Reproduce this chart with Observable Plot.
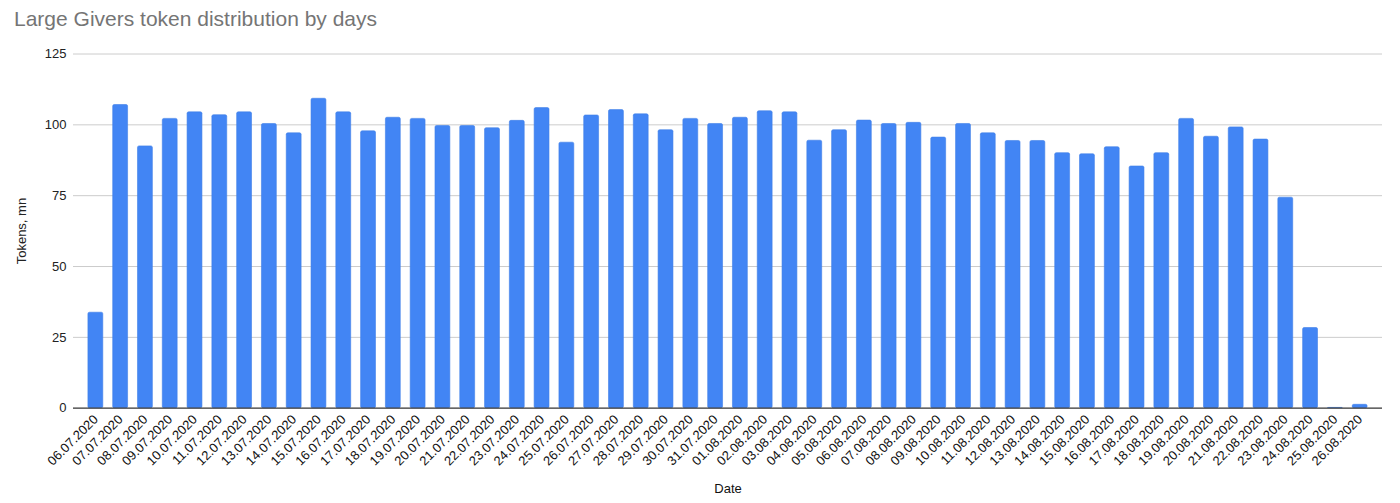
<!DOCTYPE html>
<html>
<head>
<meta charset="utf-8">
<script src="https://cdn.jsdelivr.net/npm/d3@7"></script>
<script src="https://cdn.jsdelivr.net/npm/@observablehq/plot@0.6"></script>
<style>
  html, body { margin: 0; padding: 0; background: #fff; }
  #wrap { position: relative; width: 1400px; height: 503px; font-family: "Liberation Sans", Arial, sans-serif; }
  #title { position: absolute; left: 14px; top: 7px; font-size: 21px; color: #757575; white-space: nowrap; }
  #chart { position: absolute; left: 0; top: 0; }
</style>
</head>
<body>
<div id="wrap">
  <div id="chart"></div>
  <div id="title">Large Givers token distribution by days</div>
</div>
<script>
const dates = [
  "06.07.2020","07.07.2020","08.07.2020","09.07.2020","10.07.2020","11.07.2020","12.07.2020",
  "13.07.2020","14.07.2020","15.07.2020","16.07.2020","17.07.2020","18.07.2020","19.07.2020",
  "20.07.2020","21.07.2020","22.07.2020","23.07.2020","24.07.2020","25.07.2020","26.07.2020",
  "27.07.2020","28.07.2020","29.07.2020","30.07.2020","31.07.2020","01.08.2020","02.08.2020",
  "03.08.2020","04.08.2020","05.08.2020","06.08.2020","07.08.2020","08.08.2020","09.08.2020",
  "10.08.2020","11.08.2020","12.08.2020","13.08.2020","14.08.2020","15.08.2020","16.08.2020",
  "17.08.2020","18.08.2020","19.08.2020","20.08.2020","21.08.2020","22.08.2020","23.08.2020",
  "24.08.2020","25.08.2020","26.08.2020"
];
const tokens = [
  33.7, 107.0, 92.4, 102.1, 104.4, 103.4, 104.4,
  100.3, 97.0, 109.2, 104.4, 97.7, 102.5, 102.1,
  99.6, 99.6, 98.8, 101.4, 105.9, 93.7, 103.3,
  105.2, 103.7, 98.1, 102.1, 100.3, 102.5, 104.8,
  104.4, 94.4, 98.1, 101.5, 100.3, 100.7, 95.5,
  100.3, 97.0, 94.3, 94.3, 90.0, 89.6, 92.1,
  85.3, 90.0, 102.1, 95.8, 99.1, 94.8, 74.3,
  28.3, 0.1, 1.2
];
const yTicks = [0, 25, 50, 75, 100, 125];

const data = dates.map((d, i) => ({date: d, value: tokens[i]}));

const chart = Plot.plot({
  width: 1400,
  height: 503,
  marginTop: 53.5,
  marginBottom: 95.3,
  marginLeft: 73,
  marginRight: 18,
  style: {fontFamily: "'Liberation Sans', Arial, sans-serif", background: "#fff", color: "#222"},
  x: {type: "band", domain: dates, padding: 0.4, insetLeft: 5, insetRight: 5},
  y: {domain: [0, 125]},
  marks: [
    Plot.ruleY(yTicks.filter(t => t > 0), {stroke: "#cccccc", strokeWidth: 1}),
    Plot.barY(data, {x: "date", y: "value", fill: "#4285F4", stroke: "#3f7fe8", strokeWidth: 0.6, rx: 1.5}),
    Plot.ruleY([0], {stroke: "#333333", strokeWidth: 1.2}),
    Plot.axisY({ticks: yTicks, tickSize: 0, tickPadding: 7, fontSize: 13, label: "Tokens, mn", labelAnchor: "center", labelOffset: 57, labelArrow: "none"}),
    Plot.axisX({tickSize: 0, tickPadding: 9, tickRotate: -45, fontSize: 13, fill: "#111", label: "Date", labelAnchor: "center", labelOffset: 85, labelArrow: "none"})
  ]
});
document.getElementById("chart").appendChild(chart);
</script>
</body>
</html>
